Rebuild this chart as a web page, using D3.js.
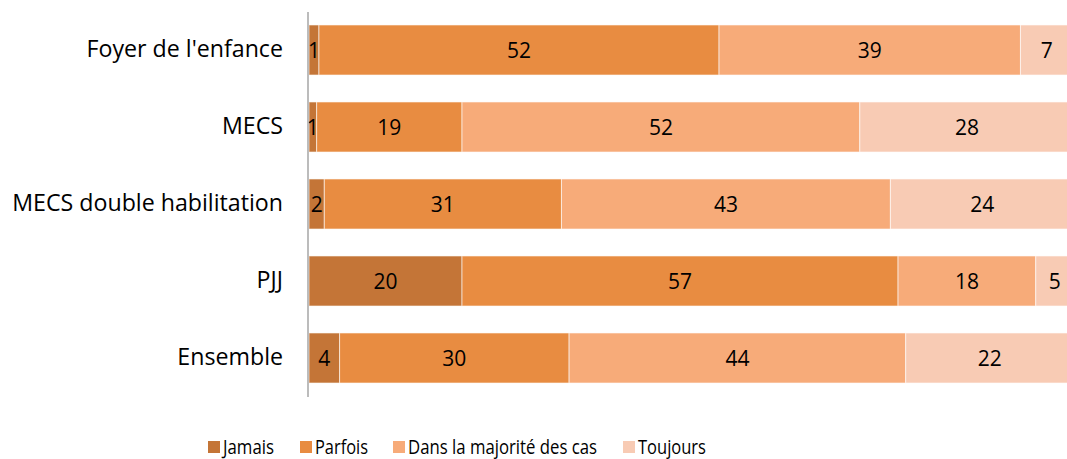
<!DOCTYPE html>
<html lang="fr">
<head>
<meta charset="utf-8">
<title>Stacked bars</title>
<script src="https://cdn.jsdelivr.net/npm/d3@7"></script>
<style>
  body { margin: 0; background: #fff; }
  text { font-family: "Open Sans", sans-serif; fill: #000; }
</style>
</head>
<body>
<script>
// data
var categories = ["Foyer de l'enfance", "MECS", "MECS double habilitation", "PJJ", "Ensemble"];
var seriesNames = ["Jamais", "Parfois", "Dans la majorité des cas", "Toujours"];
var jamais   = [1.3, 1, 2, 20, 4];
var parfois  = [52.3, 19, 31, 57, 30];
var majorite = [39.4, 52, 43, 18, 44];
var toujours = [6.9, 28, 24, 5, 22];
var colors = ["#C47537", "#E88C41", "#F7AB79", "#F8CBB4"];

var width = 1067, height = 459;

var rows = categories.map(function(c, i) {
  return { cat: c, Jamais: jamais[i], Parfois: parfois[i],
           "Dans la majorité des cas": majorite[i], Toujours: toujours[i] };
});

var svg = d3.select("body").append("svg")
  .attr("width", width)
  .attr("height", height);

var x = d3.scaleLinear().domain([0, 100]).range([309, 1074]);
var y = d3.scaleBand().domain(categories).range([11.5, 396.5])
  .paddingInner(0.35).paddingOuter(0.175);
var color = d3.scaleOrdinal().domain(seriesNames).range(colors);

var stack = d3.stack().keys(seriesNames)(rows);
var fmt = d3.format(".0f");

var layers = svg.selectAll("g.layer")
  .data(stack)
  .enter().append("g")
  .attr("class", "layer")
  .attr("fill", function(d) { return color(d.key); });

layers.selectAll("rect")
  .data(function(d) { return d; })
  .enter().append("rect")
  .attr("x", function(d) { return x(d[0]); })
  .attr("y", function(d) { return y(d.data.cat); })
  .attr("width", function(d) { return x(d[1]) - x(d[0]); })
  .attr("height", y.bandwidth())
  .attr("stroke", "#fff")
  .attr("stroke-opacity", 0.6)
  .attr("stroke-width", 1);

layers.selectAll("text")
  .data(function(d) { return d; })
  .enter().append("text")
  .attr("x", function(d) { return (x(d[0]) + x(d[1])) / 2; })
  .attr("y", function(d) { return y(d.data.cat) + y.bandwidth() / 2; })
  .attr("dy", "0.36em")
  .attr("text-anchor", "middle")
  .attr("font-size", 21)
  .text(function(d) { return fmt(d[1] - d[0]); });

// category axis
var yAxis = d3.axisLeft(y).tickSize(0).tickPadding(25);
var gy = svg.append("g")
  .attr("transform", "translate(308,0)")
  .call(yAxis);
gy.select(".domain").attr("stroke", "#A6A6A6").attr("stroke-width", 1.5)
  .attr("d", "M0,12V397");
gy.selectAll("text").attr("font-size", 23.2).attr("font-family", "'Open Sans', sans-serif");

// legend (text is horizontally condensed in the original)
var legendX = [208, 300, 393, 623];
var legendW = [51, 53, 189, 68];
var legend = svg.selectAll("g.legend")
  .data(seriesNames)
  .enter().append("g")
  .attr("class", "legend")
  .attr("transform", function(d, i) { return "translate(" + legendX[i] + ",441)"; });
legend.append("rect")
  .attr("width", 12).attr("height", 12)
  .attr("fill", function(d) { return color(d); });
legend.append("text")
  .attr("x", 15).attr("y", 13)
  .attr("font-size", 20)
  .attr("textLength", function(d, i) { return legendW[i]; })
  .attr("lengthAdjust", "spacingAndGlyphs")
  .text(function(d) { return d; });
</script>
</body>
</html>
